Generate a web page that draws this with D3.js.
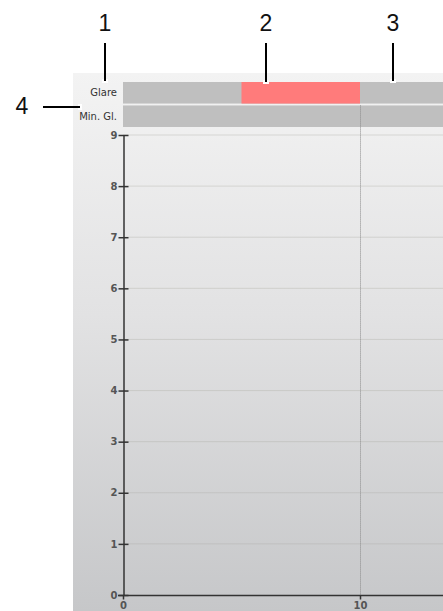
<!DOCTYPE html>
<html>
<head>
<meta charset="utf-8">
<script src="https://cdn.jsdelivr.net/npm/d3@7"></script>
<style>
  html, body { margin: 0; padding: 0; background: #fff; }
  svg { display: block; }
</style>
</head>
<body>
<svg id="chart" width="443" height="611"></svg>
<script>
// Status bands shown above the plot
const bandNames = ["Glare", "Min. Gl."];
// Highlighted interval on the Glare band (x units)
const glareStart = [5];
const glareEnd = [10];
// Axis ticks
const yTicks = [0, 1, 2, 3, 4, 5, 6, 7, 8, 9];
const xTicks = [0, 10];
// Reference line position on x
const markerX = [10];
// Callout numbers
const calloutLabels = ["1", "2", "3", "4"];

const W = 443, H = 611;
const svg = d3.select("#chart");

const x = d3.scaleLinear().domain([0, 10]).range([123, 360]);
const y = d3.scaleLinear().domain([0, 9]).range([595, 135]);
const band = d3.scaleBand().domain(bandNames).range([82, 127]).paddingInner(0.08);

// Panel background gradient
const defs = svg.append("defs");
const grad = defs.append("linearGradient").attr("id", "panelGrad")
  .attr("x1", 0).attr("y1", 0).attr("x2", 0).attr("y2", 1);
grad.append("stop").attr("offset", "0%").attr("stop-color", "#f3f3f3");
grad.append("stop").attr("offset", "45%").attr("stop-color", "#e2e2e3");
grad.append("stop").attr("offset", "100%").attr("stop-color", "#c6c7c9");
svg.append("rect").attr("x", 73).attr("y", 73).attr("width", W - 73).attr("height", H - 73)
  .attr("fill", "url(#panelGrad)");

// Horizontal grid lines
svg.append("g").selectAll("line").data(yTicks.filter(d => d > 0)).join("line")
  .attr("x1", x(0)).attr("x2", W)
  .attr("y1", d => y(d)).attr("y2", d => y(d))
  .attr("stroke", "#a8a8a0").attr("stroke-opacity", 0.35).attr("stroke-width", 1);

// Bands
const bands = svg.append("g");
bands.selectAll("rect.band").data(bandNames).join("rect")
  .attr("class", "band")
  .attr("x", x(0)).attr("width", W - x(0))
  .attr("y", d => band(d)).attr("height", band.bandwidth())
  .attr("fill", "#bfbfbf");
bands.selectAll("rect.hit").data(glareStart.map((s, i) => ({ s, e: glareEnd[i] }))).join("rect")
  .attr("class", "hit")
  .attr("x", d => x(d.s)).attr("width", d => x(d.e) - x(d.s))
  .attr("y", band("Glare")).attr("height", band.bandwidth())
  .attr("fill", "#ff7b7b");
bands.selectAll("text").data(bandNames).join("text")
  .attr("x", 117).attr("y", d => band(d) + band.bandwidth() / 2)
  .attr("dy", "0.35em").attr("text-anchor", "end")
  .attr("font-family", "DejaVu Sans, sans-serif").attr("font-size", 10)
  .attr("fill", "#333").text(d => d);

// Dotted reference line
svg.append("g").selectAll("line").data(markerX).join("line")
  .attr("x1", d => x(d) + 0.5).attr("x2", d => x(d) + 0.5)
  .attr("y1", band("Min. Gl.")).attr("y2", y(0))
  .attr("stroke", "#8a8a8a").attr("stroke-width", 1).attr("stroke-dasharray", "1,1");

// Y axis
const yAxis = svg.append("g").attr("transform", `translate(${x(0) + 0.5},0)`)
  .call(d3.axisLeft(y).tickValues(yTicks).tickFormat(d3.format("d")).tickSizeInner(5).tickSizeOuter(0));
yAxis.select(".domain").attr("stroke", "#333").attr("stroke-width", 1.5);
yAxis.selectAll(".tick line").attr("x2", 5).attr("x1", -5).attr("stroke", "#333").attr("stroke-width", 1.5);
yAxis.selectAll(".tick text").attr("x", -6)
  .attr("font-family", "DejaVu Sans, sans-serif").attr("font-size", 10).attr("font-weight", "bold").attr("fill", "#555");

// X axis
const xAxis = svg.append("g").attr("transform", `translate(0,${y(0) + 0.5})`)
  .call(d3.axisBottom(x).tickValues(xTicks).tickFormat(d3.format("d")).tickSizeInner(4).tickSizeOuter(0));
xAxis.select(".domain").attr("d", `M${x(0) - 5},0H${W}`).attr("stroke", "#333").attr("stroke-width", 1.5);
xAxis.selectAll(".tick line").attr("stroke", "#333").attr("stroke-width", 1.5);
xAxis.selectAll(".tick text").attr("y", 6)
  .attr("font-family", "DejaVu Sans, sans-serif").attr("font-size", 10).attr("font-weight", "bold").attr("fill", "#555");

// Numbered callouts with leader lines
const callouts = [
  { t: calloutLabels[0], tx: 105, ty: 31, x1: 105, y1: 43, x2: 105, y2: 81, vertical: true },
  { t: calloutLabels[1], tx: 266, ty: 31, x1: 266, y1: 43, x2: 266, y2: 82, vertical: true },
  { t: calloutLabels[2], tx: 393, ty: 31, x1: 393, y1: 43, x2: 393, y2: 81, vertical: true },
  { t: calloutLabels[3], tx: 22, ty: 114, x1: 43, y1: 107, x2: 80, y2: 107, vertical: false }
];
const cg = svg.append("g");
callouts.forEach(c => {
  // small white cap at the leader tip
  if (c.vertical) {
    cg.append("rect").attr("x", c.x2 - 3).attr("y", c.y2 - 2).attr("width", 6).attr("height", 4).attr("fill", "#fff");
  } else {
    cg.append("rect").attr("x", c.x2 - 2).attr("y", c.y2 - 3).attr("width", 4).attr("height", 6).attr("fill", "#fff");
  }
  cg.append("line").attr("x1", c.x1).attr("y1", c.y1).attr("x2", c.x2).attr("y2", c.y2)
    .attr("stroke", "#000").attr("stroke-width", 2);
  cg.append("text").attr("x", c.tx).attr("y", c.ty).attr("text-anchor", "middle")
    .attr("font-family", "Liberation Sans, sans-serif").attr("font-size", 23).attr("fill", "#111").text(c.t);
});
</script>
</body>
</html>
